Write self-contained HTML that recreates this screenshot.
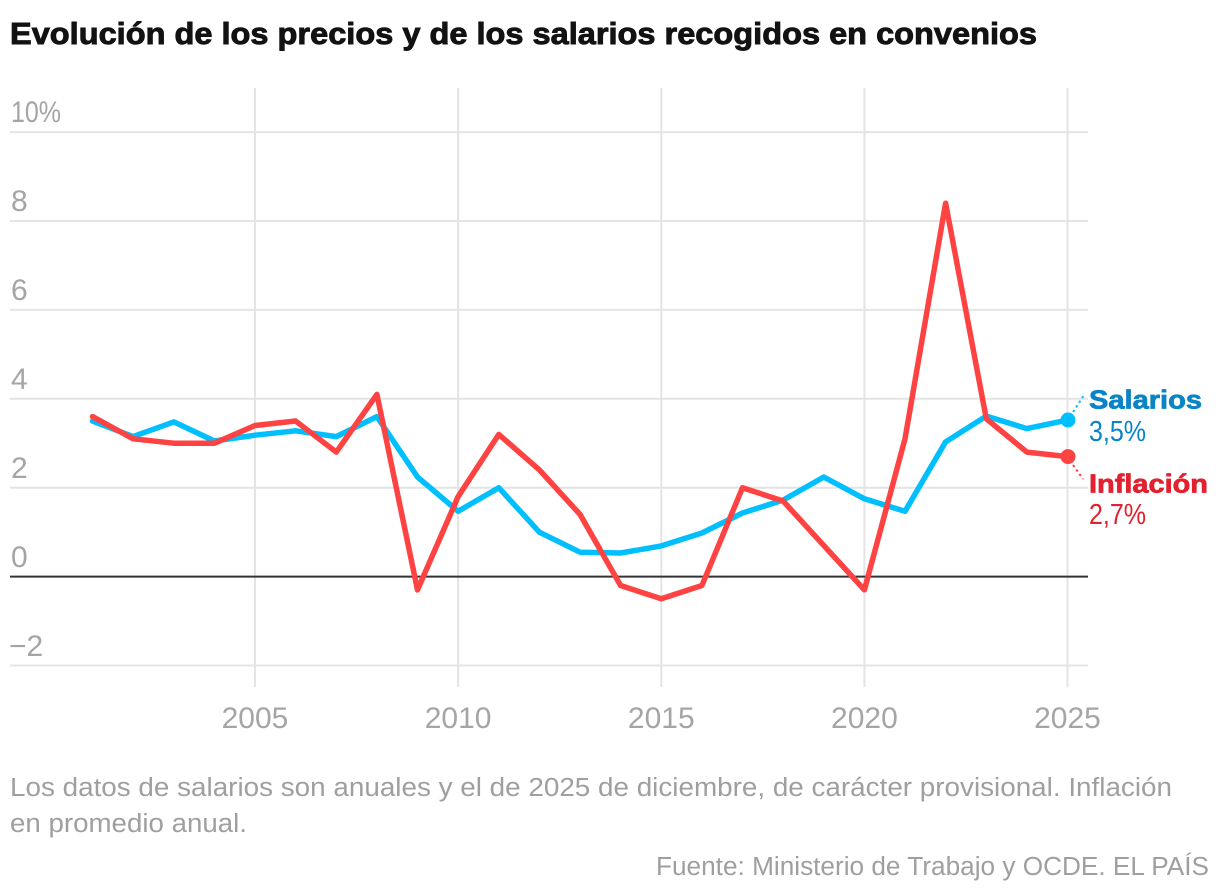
<!DOCTYPE html>
<html>
<head>
<meta charset="utf-8">
<style>
  html, body { margin: 0; padding: 0; background: #ffffff; }
  svg { display: block; }
  text { font-family: "Liberation Sans", "DejaVu Sans", sans-serif; }
</style>
</head>
<body>
<svg width="1220" height="896" viewBox="0 0 1220 896" xmlns="http://www.w3.org/2000/svg">
  <rect x="0" y="0" width="1220" height="896" fill="#ffffff"/>

  <!-- Title -->
  <text x="10" y="44" font-size="31" font-weight="bold" fill="#121212" stroke="#121212" stroke-width="0.9" textLength="1027" lengthAdjust="spacingAndGlyphs">Evolución de los precios y de los salarios recogidos en convenios</text>

  <!-- Vertical gridlines -->
  <g stroke="#e4e4e4" stroke-width="2">
    <line x1="255" y1="88" x2="255" y2="687"/>
    <line x1="458.1" y1="88" x2="458.1" y2="687"/>
    <line x1="661.3" y1="88" x2="661.3" y2="687"/>
    <line x1="864.4" y1="88" x2="864.4" y2="687"/>
    <line x1="1067.5" y1="88" x2="1067.5" y2="687"/>
  </g>

  <!-- Horizontal gridlines -->
  <g stroke="#e4e4e4" stroke-width="2">
    <line x1="10" y1="132.1" x2="1088" y2="132.1"/>
    <line x1="10" y1="221" x2="1088" y2="221"/>
    <line x1="10" y1="309.9" x2="1088" y2="309.9"/>
    <line x1="10" y1="398.8" x2="1088" y2="398.8"/>
    <line x1="10" y1="487.7" x2="1088" y2="487.7"/>
    <line x1="10" y1="665.5" x2="1088" y2="665.5"/>
  </g>
  <!-- Zero line -->
  <line x1="10" y1="576.6" x2="1088" y2="576.6" stroke="#333333" stroke-width="2"/>

  <!-- Y labels -->
  <g font-size="30" fill="#a5a5a5">
    <text x="11" y="122" textLength="50" lengthAdjust="spacingAndGlyphs">10%</text>
    <text x="11" y="211">8</text>
    <text x="11" y="300">6</text>
    <text x="11" y="389">4</text>
    <text x="11" y="478">2</text>
    <text x="11" y="567">0</text>
    <text x="9" y="656">−2</text>
  </g>

  <!-- X labels -->
  <g font-size="30" fill="#a5a5a5" text-anchor="middle">
    <text x="255" y="728">2005</text>
    <text x="458.1" y="728">2010</text>
    <text x="661.3" y="728">2015</text>
    <text x="864.4" y="728">2020</text>
    <text x="1067.5" y="728">2025</text>
  </g>

  <!-- Salarios line -->
  <polyline fill="none" stroke="#00bfff" stroke-width="5.5" stroke-linejoin="round" stroke-linecap="round"
    points="92.5,421.0 133.1,436.6 173.8,421.9 214.4,441.0 255.0,435.2 295.6,430.8 336.3,436.6 376.9,416.6 417.5,477.0 458.1,511.3 498.8,487.7 539.4,532.2 580.0,552.2 620.6,553.0 661.3,545.9 701.9,533.0 742.5,513.0 783.1,500.1 823.8,477.0 864.4,498.8 905.0,511.3 945.6,441.9 986.3,416.1 1026.9,428.6 1067.5,420.1"/>

  <!-- Inflación line -->
  <polyline fill="none" stroke="#ff4343" stroke-width="5.5" stroke-linejoin="round" stroke-linecap="round"
    points="92.5,416.6 133.1,438.8 173.8,443.2 214.4,443.2 255.0,425.5 295.6,421.0 336.3,452.1 376.9,394.4 417.5,589.9 458.1,496.6 498.8,434.4 539.4,469.9 580.0,514.4 620.6,585.5 661.3,598.8 701.9,585.5 742.5,487.7 783.1,501.0 823.8,545.5 864.4,589.9 905.0,438.8 945.6,203.2 986.3,418.8 1026.9,452.1 1067.5,456.6"/>

  <!-- End dots -->
  <circle cx="1068" cy="420" r="7.5" fill="#00bfff"/>
  <circle cx="1068" cy="456.6" r="7.5" fill="#ff4343"/>

  <!-- Leader lines -->
  <line x1="1073" y1="412" x2="1083.5" y2="396" stroke="#00bfff" stroke-width="2" stroke-dasharray="2.5,3"/>
  <line x1="1073" y1="465" x2="1083" y2="479" stroke="#ff4343" stroke-width="2" stroke-dasharray="2.5,3"/>

  <!-- Legend labels -->
  <text x="1089" y="408.5" font-size="26" font-weight="bold" fill="#0a84c5" stroke="#0a84c5" stroke-width="0.7" textLength="113" lengthAdjust="spacingAndGlyphs">Salarios</text>
  <text x="1089" y="441" font-size="28.5" fill="#0a84c5" textLength="57" lengthAdjust="spacingAndGlyphs">3,5%</text>
  <text x="1089" y="492.5" font-size="26" font-weight="bold" fill="#e3202f" stroke="#e3202f" stroke-width="0.7" textLength="119" lengthAdjust="spacingAndGlyphs">Inflación</text>
  <text x="1089" y="524" font-size="28.5" fill="#e3202f" textLength="57" lengthAdjust="spacingAndGlyphs">2,7%</text>

  <!-- Footer -->
  <g font-size="25.5" fill="#9f9f9f">
    <text x="10" y="796" textLength="1162" lengthAdjust="spacingAndGlyphs">Los datos de salarios son anuales y el de 2025 de diciembre, de carácter provisional. Inflación</text>
    <text x="10" y="832" textLength="237" lengthAdjust="spacingAndGlyphs">en promedio anual.</text>
    <text x="656" y="875" textLength="553" lengthAdjust="spacingAndGlyphs">Fuente: Ministerio de Trabajo y OCDE. EL PAÍS</text>
  </g>
</svg>
</body>
</html>
